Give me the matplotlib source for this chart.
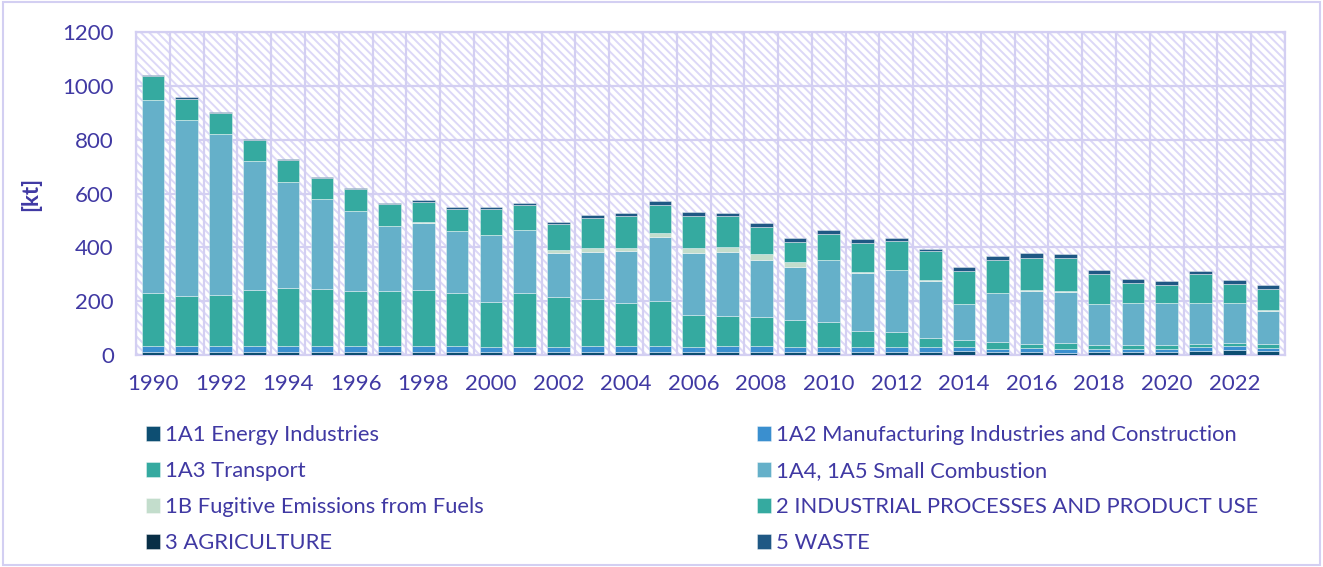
import numpy as np
import matplotlib.pyplot as plt
from matplotlib.patches import Rectangle

plt.rcParams['font.family'] = ['Lato', 'DejaVu Sans']
plt.rcParams['hatch.linewidth'] = 1.4

years = list(range(1990, 2024))

# values in kt
energy = [12, 12, 12, 12, 12, 12, 12, 12, 12, 12, 12, 10, 12, 12, 12, 12, 12,
          12, 12, 11, 12, 12, 12, 12, 14, 12, 11, 9, 11, 11, 12, 16, 20, 15]
manufacturing = [22, 22, 22, 22, 22, 22, 22, 22, 23, 22, 19, 20, 19, 22, 20, 21, 17,
                 20, 22, 20, 19, 19, 16, 16, 15, 12, 14, 12, 12, 12, 12, 14, 15, 12]
transport = [195, 186, 188, 206, 214, 211, 203, 203, 205, 195, 168, 199, 183, 176, 163, 169, 120,
             114, 108, 99, 92, 60, 58, 34, 27, 25, 17, 25, 15, 14, 14, 12, 11, 14]
small_comb = [720, 655, 601, 482, 395, 335, 299, 242, 253, 232, 248, 236, 164, 174, 193, 237, 230,
              237, 211, 196, 229, 214, 230, 214, 133, 181, 196, 189, 150, 155, 154, 150, 147, 123]
fugitive = [1, 1, 1, 1, 1, 1, 1, 1, 1, 1, 1, 1, 11, 14, 11, 15, 20,
            20, 22, 20, 2, 2, 2, 2, 2, 2, 2, 2, 2, 2, 2, 2, 2, 2]
ippu = [87, 78, 76, 77, 81, 76, 81, 81, 77, 83, 97, 91, 97, 111, 119, 104, 120,
        114, 103, 76, 96, 111, 108, 108, 122, 123, 122, 124, 112, 75, 68, 108, 71, 81]
agriculture = [0] * 34
waste = [5, 5, 5, 5, 5, 5, 5, 5, 7, 7, 7, 10, 9, 11, 11, 14, 14,
         12, 15, 12, 15, 14, 9, 9, 16, 15, 16, 16, 15, 15, 14, 12, 12, 12]

series = [
    ('1A1 Energy Industries', energy, '#0D4E72'),
    ('1A2 Manufacturing Industries and Construction', manufacturing, '#3A8FCF'),
    ('1A3 Transport', transport, '#35AAA0'),
    ('1A4, 1A5 Small Combustion', small_comb, '#65B0C9'),
    ('1B Fugitive Emissions from Fuels', fugitive, '#C3DDCC'),
    ('2 INDUSTRIAL PROCESSES AND PRODUCT USE', ippu, '#35AAA0'),
    ('3 AGRICULTURE', agriculture, '#082E46'),
    ('5 WASTE', waste, '#1F5884'),
]

txt = '#4039A3'
lav = '#D3CFF2'

fig = plt.figure(figsize=(13.23, 5.67), dpi=100)
ax = fig.add_axes([0.1028, 0.3739, 0.8685, 0.5688])

# hatched background like the excel plot area
ax.add_patch(Rectangle((0, 0), 1, 1, transform=ax.transAxes, facecolor='white',
                       edgecolor='#DCD8F7', hatch='\\\\\\\\', lw=0, zorder=0))

x = np.arange(len(years))
bottom = np.zeros(len(years))
handles = []
for name, vals, col in series:
    b = ax.bar(x, vals, 0.67, bottom=bottom, color=col, label=name,
               edgecolor=(1, 1, 1, 0.45), linewidth=0.6, zorder=3)
    handles.append(b)
    bottom += np.array(vals)

ax.set_xlim(-0.5, len(years) - 0.5)
ax.set_ylim(0, 1200)
ax.set_yticks(range(0, 1201, 200))
ax.set_xticks(x[::2])
ax.set_xticklabels([str(y) for y in years[::2]])
ax.set_xticks(np.arange(-0.5, len(years), 1), minor=True)
ax.grid(True, which='minor', axis='x', color=lav, lw=1.6, zorder=1)
ax.grid(True, which='major', axis='y', color=lav, lw=1.6, zorder=1)
ax.set_axisbelow(True)
ax.tick_params(axis='both', which='both', length=0, colors=txt, labelsize=16)
ax.tick_params(axis='x', pad=14)
ax.tick_params(axis='y', pad=16)
for s in ax.spines.values():
    s.set_color(lav)
    s.set_linewidth(1.6)

ax.set_ylabel('[kt]', color=txt, fontsize=16, fontweight='bold')
ax.yaxis.set_label_coords(-0.083, 0.5)

# legend in two columns, placed like the original
leg_kw = dict(frameon=False, fontsize=15.8, handlelength=0.62, handleheight=0.62,
              handletextpad=0.25, labelspacing=0.73, borderpad=0, borderaxespad=0,
              loc='upper left', labelcolor=txt)
fig.legend(handles[0::2], [s[0] for s in series[0::2]],
           bbox_to_anchor=(0.1104, 0.250), **leg_kw)
fig.legend(handles[1::2], [s[0] for s in series[1::2]],
           bbox_to_anchor=(0.5722, 0.250), **leg_kw)

fig.patches.append(Rectangle((0.002, 0.003), 0.996, 0.994, transform=fig.transFigure,
                             fill=False, edgecolor=lav, lw=1.5))

fig.savefig('out.png', dpi=100)
